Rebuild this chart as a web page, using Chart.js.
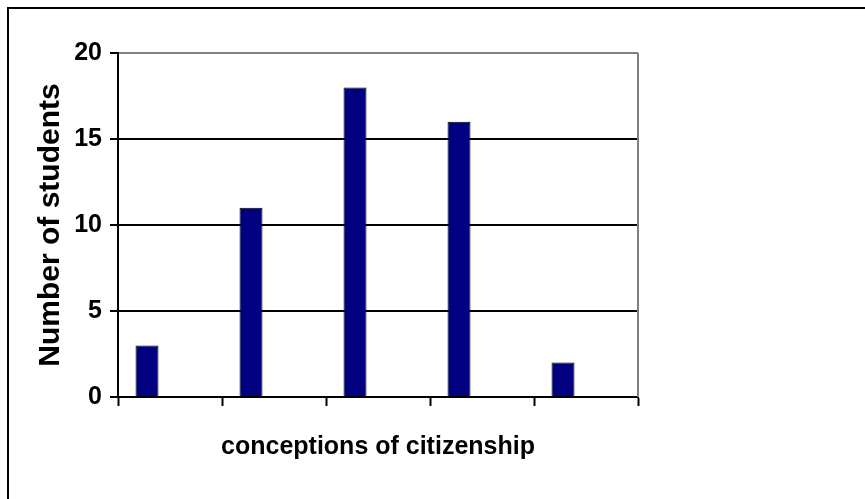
<!DOCTYPE html>
<html>
<head>
<meta charset="utf-8">
<script src="https://cdn.jsdelivr.net/npm/chart.js@4"></script>
<style>
  body { margin: 0; background: #fff; overflow: hidden; }
  #wrap { width: 865px; height: 499px; position: relative; }
</style>
</head>
<body>
<div id="wrap"><canvas id="citizenship"></canvas></div>
<script>
// categories have no printed labels in the original
var categories = ['', '', '', '', ''];
var students = [3, 11, 18, 16, 2];
// the excel chart had 3 series, only the first one has values
var series2 = [null, null, null, null, null];
var series3 = [null, null, null, null, null];
var yTicks = [0, 5, 10, 15, 20];

// frame round the whole chart + grey right edge of the plot area
var framePlugin = {
  id: 'frame',
  beforeDraw: function(chart) {
    var c = chart.ctx;
    c.save();
    c.strokeStyle = '#000';
    c.lineWidth = 2;
    c.beginPath();
    c.moveTo(8, 499);
    c.lineTo(8, 8);
    c.lineTo(865, 8);
    c.stroke();
    c.restore();
  },
  afterDraw: function(chart) {
    var a = chart.chartArea;
    var c = chart.ctx;
    c.save();
    c.strokeStyle = '#808080';
    c.lineWidth = 2;
    c.beginPath();
    c.moveTo(a.right, a.top);
    c.lineTo(a.right, a.bottom);
    c.stroke();
    c.restore();
  }
};

var ctx = document.getElementById('citizenship');

var chart = new Chart(ctx, {
  type: 'bar',
  data: {
    labels: categories,
    datasets: [{
      label: 'students',
      data: students,
      backgroundColor: '#000080',
      borderColor: '#000',
      borderWidth: 1
    }, {
      label: 'series2',
      data: series2,
      backgroundColor: '#993366'
    }, {
      label: 'series3',
      data: series3,
      backgroundColor: '#ffffcc'
    }]
  },
  options: {
    responsive: true,
    maintainAspectRatio: false,
    animation: false,
    categoryPercentage: 0.663,
    barPercentage: 1,
    layout: {
      padding: { top: 53, right: 227, left: 0, bottom: 0 }
    },
    plugins: {
      legend: { display: false },
      tooltip: { enabled: false }
    },
    scales: {
      x: {
        grid: {
          offset: true,
          drawOnChartArea: false,
          drawTicks: true,
          tickLength: 9,
          tickWidth: 2,
          tickColor: '#000'
        },
        border: { display: true, color: '#000', width: 2 },
        ticks: { display: false },
        title: {
          display: true,
          text: 'conceptions of citizenship',
          color: '#000',
          font: { family: 'Liberation Sans', weight: 'bold', size: 25 },
          padding: { top: 0, bottom: 37 }
        },
        afterFit: function(scale) { scale.height = 102; }
      },
      y: {
        min: 0,
        max: 20,
        afterBuildTicks: function(scale) {
          scale.ticks = yTicks.map(function(v) { return { value: v }; });
        },
        grid: {
          color: function(c) { return c.tick && c.tick.value === 20 ? '#808080' : '#000'; },
          lineWidth: 2,
          tickLength: 8,
          tickWidth: 2,
          tickColor: '#000'
        },
        border: { display: true, color: '#000', width: 2 },
        ticks: {
          color: '#000',
          padding: 8,
          font: { family: 'Liberation Sans', weight: 'bold', size: 25 }
        },
        title: {
          display: true,
          text: 'Number of students',
          color: '#000',
          font: { family: 'Liberation Sans', weight: 'bold', size: 30 },
          padding: { top: 33, bottom: 0 }
        },
        afterFit: function(scale) { scale.width = 118; }
      }
    }
  },
  plugins: [framePlugin]
});
</script>
</body>
</html>
